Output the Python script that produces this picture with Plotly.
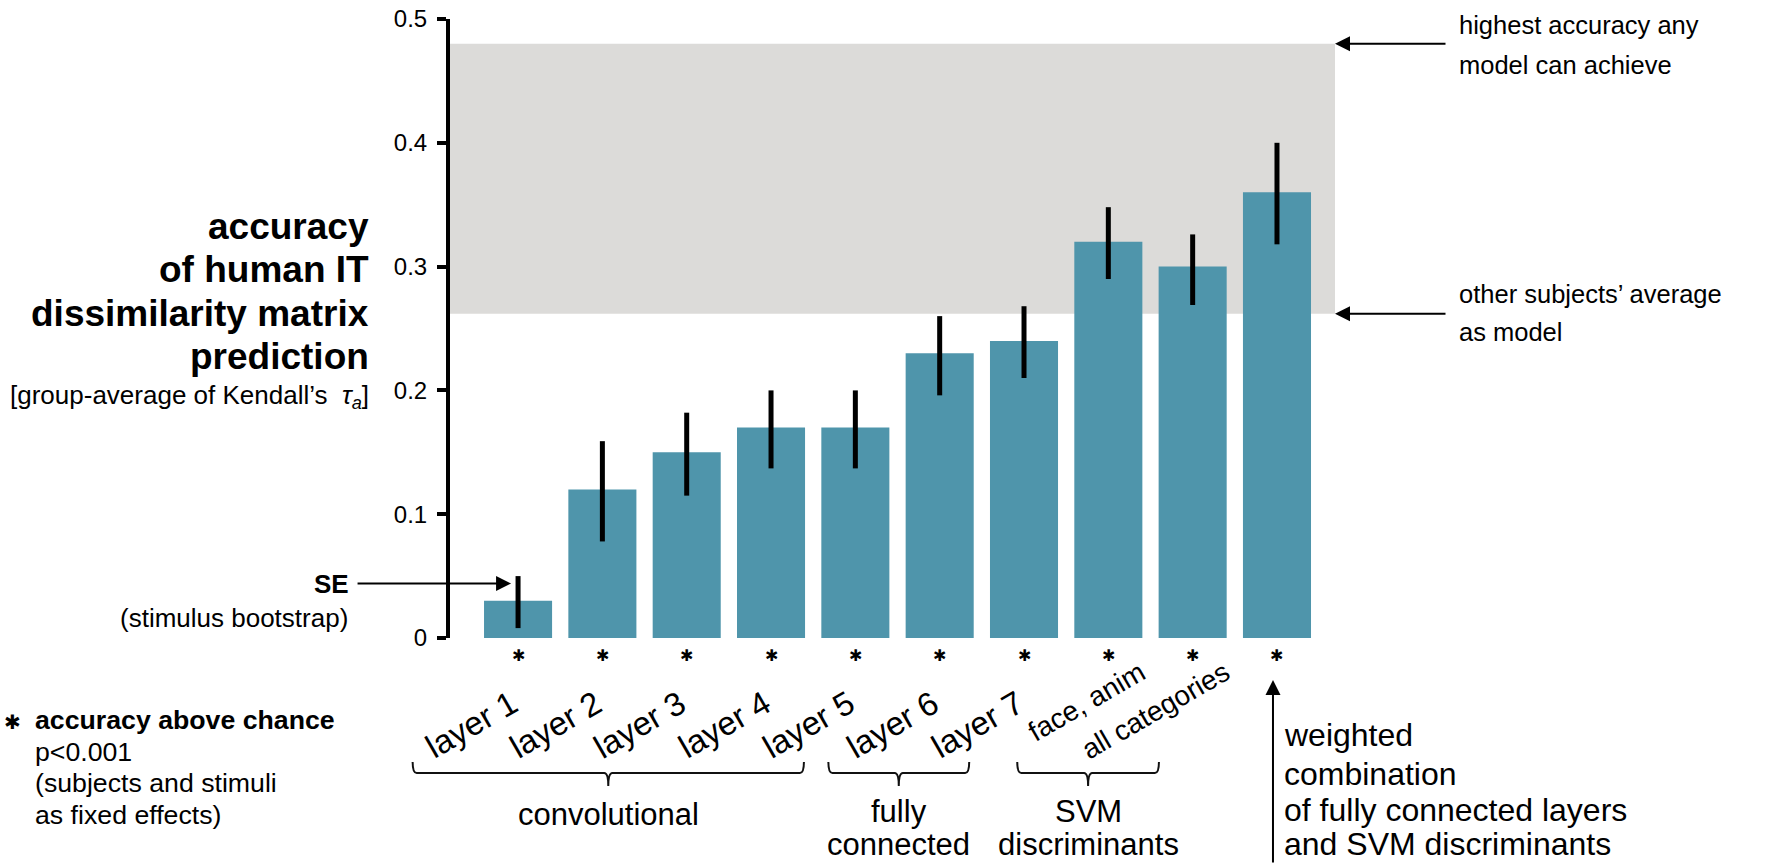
import plotly.graph_objects as go

# ---- data ----
labels = ["layer 1", "layer 2", "layer 3", "layer 4", "layer 5", "layer 6",
          "layer 7", "face, anim", "all categories", "weighted combination"]
accuracy = [0.030, 0.120, 0.150, 0.170, 0.170, 0.230, 0.240, 0.320, 0.300, 0.360]
se_upper = [0.050, 0.159, 0.182, 0.200, 0.200, 0.260, 0.268, 0.348, 0.326, 0.400]
se_lower = [0.008, 0.078, 0.115, 0.137, 0.137, 0.196, 0.210, 0.290, 0.269, 0.318]
above_chance = [True] * 10
noise_ceiling = (0.262, 0.48)      # lower / upper bound of the grey band
y_tickvals = [0, 0.1, 0.2, 0.3, 0.4, 0.5]
y_ticktext = ["0", "0.1", "0.2", "0.3", "0.4", "0.5"]
# groups under the x labels: name, first and last category position of the bracket
groups = [("convolutional", -1.25, 3.39),
          ("fully<br>connected", 3.68, 5.35),
          ("SVM<br>discriminants", 5.92, 7.60)]

FONT = "Liberation Sans, Arial, Helvetica, sans-serif"
BAR = "#4F95AB"
BAND = "#DCDBD9"

W_FIG, H_FIG = 1781, 864
# plot area in page pixels
L, R, T, B = 450, 1335, 19, 638
X0, X1 = -0.807, 9.688


def xp(px):
    return (px - L) / (R - L)


def yp(py):
    return (B - py) / (B - T)


def cx(c):
    return (c - X0) / (X1 - X0)


fig = go.Figure()
fig.add_trace(go.Bar(
    x=labels, y=accuracy, marker=dict(color=BAR, line=dict(width=0)),
    error_y=dict(type="data", symmetric=False,
                 array=[u - a for u, a in zip(se_upper, accuracy)],
                 arrayminus=[a - lo for a, lo in zip(accuracy, se_lower)],
                 color="black", thickness=5, width=0),
    hoverinfo="skip"))

fig.add_shape(type="rect", xref="paper", x0=0, x1=1, yref="y",
              y0=noise_ceiling[0], y1=noise_ceiling[1],
              fillcolor=BAND, line=dict(width=0), layer="below")

ann = []


def note(text, x, y, size, xanchor="left", bold=False, xref="paper", **kw):
    if bold:
        text = "<b>" + text + "</b>"
    ann.append(dict(text=text, x=x, y=y, xref=xref, yref="paper",
                    xanchor=xanchor, yanchor="middle", showarrow=False,
                    font=dict(family=FONT, size=size, color="black"), **kw))


def arrow(x, y, ax, ay, xref="paper", yref="paper", xshift=0):
    ann.append(dict(text="", x=x, y=y, xref=xref, yref=yref, xshift=xshift,
                    ax=ax, ay=ay, showarrow=True, arrowhead=2, arrowsize=1.5,
                    arrowwidth=2, arrowcolor="black"))


# asterisks under bars
for lab, sig in zip(labels, above_chance):
    if sig:
        note("✱", lab, yp(655), 16, xanchor="center", xref="x")

# rotated x labels
for i, lab in enumerate(labels[:9]):
    small = i >= 7
    ann.append(dict(text=lab, x=lab, xref="x", y=yp(681 if not small else 653),
                    yref="paper", xanchor="right", yanchor="top",
                    xshift=(8 if not small else 45), textangle=-30,
                    showarrow=False,
                    font=dict(family=FONT, size=28 if small else 33, color="black")))

# group brackets + names
y_top, y_line, y_tip = yp(762), yp(773), yp(786)
d = 4 / (R - L)
for name, c0, c1 in groups:
    a, b = cx(c0), cx(c1)
    m = (a + b) / 2
    path = (f"M {a},{y_top} Q {a},{y_line} {a + d},{y_line} L {m - d},{y_line} "
            f"Q {m},{y_line} {m},{y_tip} Q {m},{y_line} {m + d},{y_line} "
            f"L {b - d},{y_line} Q {b},{y_line} {b},{y_top}")
    fig.add_shape(type="path", path=path, xref="paper", yref="paper",
                  line=dict(color="#111", width=2))
    lines = name.split("<br>")
    ys = [814] if len(lines) == 1 else [811, 845]
    for ln, yy in zip(lines, ys):
        note(ln, m, yp(yy), 31, xanchor="center")

# y title block
for txt, yy in [("accuracy", 226), ("of human IT", 269),
                ("dissimilarity matrix", 313), ("prediction", 356)]:
    note(txt, xp(371), yp(yy), 37, xanchor="right", bold=True)
note("[group-average of Kendall’s  <i>τ</i><sub><i>a</i></sub>]",
     xp(371), yp(397), 26, xanchor="right")

# SE callout
note("SE", xp(351), yp(584), 26, xanchor="right", bold=True)
note("(stimulus bootstrap)", xp(350), yp(618), 26, xanchor="right")
arrow(labels[0], 0.044, -155, 0, xref="x", yref="y", xshift=-7)

# asterisk legend
note("✱", xp(12), yp(722), 20, xanchor="center")
note("accuracy above chance", xp(33), yp(720), 26.7, bold=True)
for txt, yy in [("p&lt;0.001", 752), ("(subjects and stimuli", 783),
                ("as fixed effects)", 815)]:
    note(txt, xp(33), yp(yy), 26.7)

# noise-ceiling callouts
for yv, lines in [(noise_ceiling[1], [("highest accuracy any", 25), ("model can achieve", 65)]),
                  (noise_ceiling[0], [("other subjects’ average", 294), ("as model", 332)])]:
    arrow(1, yv, 112, 0, yref="y")
    for txt, yy in lines:
        note(txt, xp(1457), yp(yy), 25.5)

# weighted combination callout
arrow(labels[9], yp(680), 0, 200, xref="x", xshift=-4)
for txt, yy in [("weighted", 735), ("combination", 774),
                ("of fully connected layers", 810), ("and SVM discriminants", 844)]:
    note(txt, xp(1282), yp(yy), 32)

fig.update_layout(
    width=W_FIG, height=H_FIG,
    margin=dict(l=L, r=W_FIG - R, t=T, b=H_FIG - B, pad=0),
    paper_bgcolor="white", plot_bgcolor="white",
    showlegend=False, bargap=0.193,
    font=dict(family=FONT, color="black"),
    annotations=ann,
    xaxis=dict(range=[X0, X1], showticklabels=False, showline=False, ticks="",
               showgrid=False, zeroline=False, fixedrange=True, automargin=False),
    yaxis=dict(range=[0, 0.5], tickvals=y_tickvals, ticktext=y_ticktext,
               ticks="outside", ticklen=9, tickwidth=4, tickcolor="black",
               showline=True, linewidth=4, linecolor="black",
               showgrid=False, zeroline=False, tickfont=dict(size=24),
               ticklabelstandoff=5, fixedrange=True, automargin=False),
)

# the figure fills the whole window, so drop the default body margin
fig.write_html("out.html",
               config={"displayModeBar": False, "responsive": False},
               post_script="document.body.style.margin='0';"
                           "document.body.style.overflow='hidden';")
